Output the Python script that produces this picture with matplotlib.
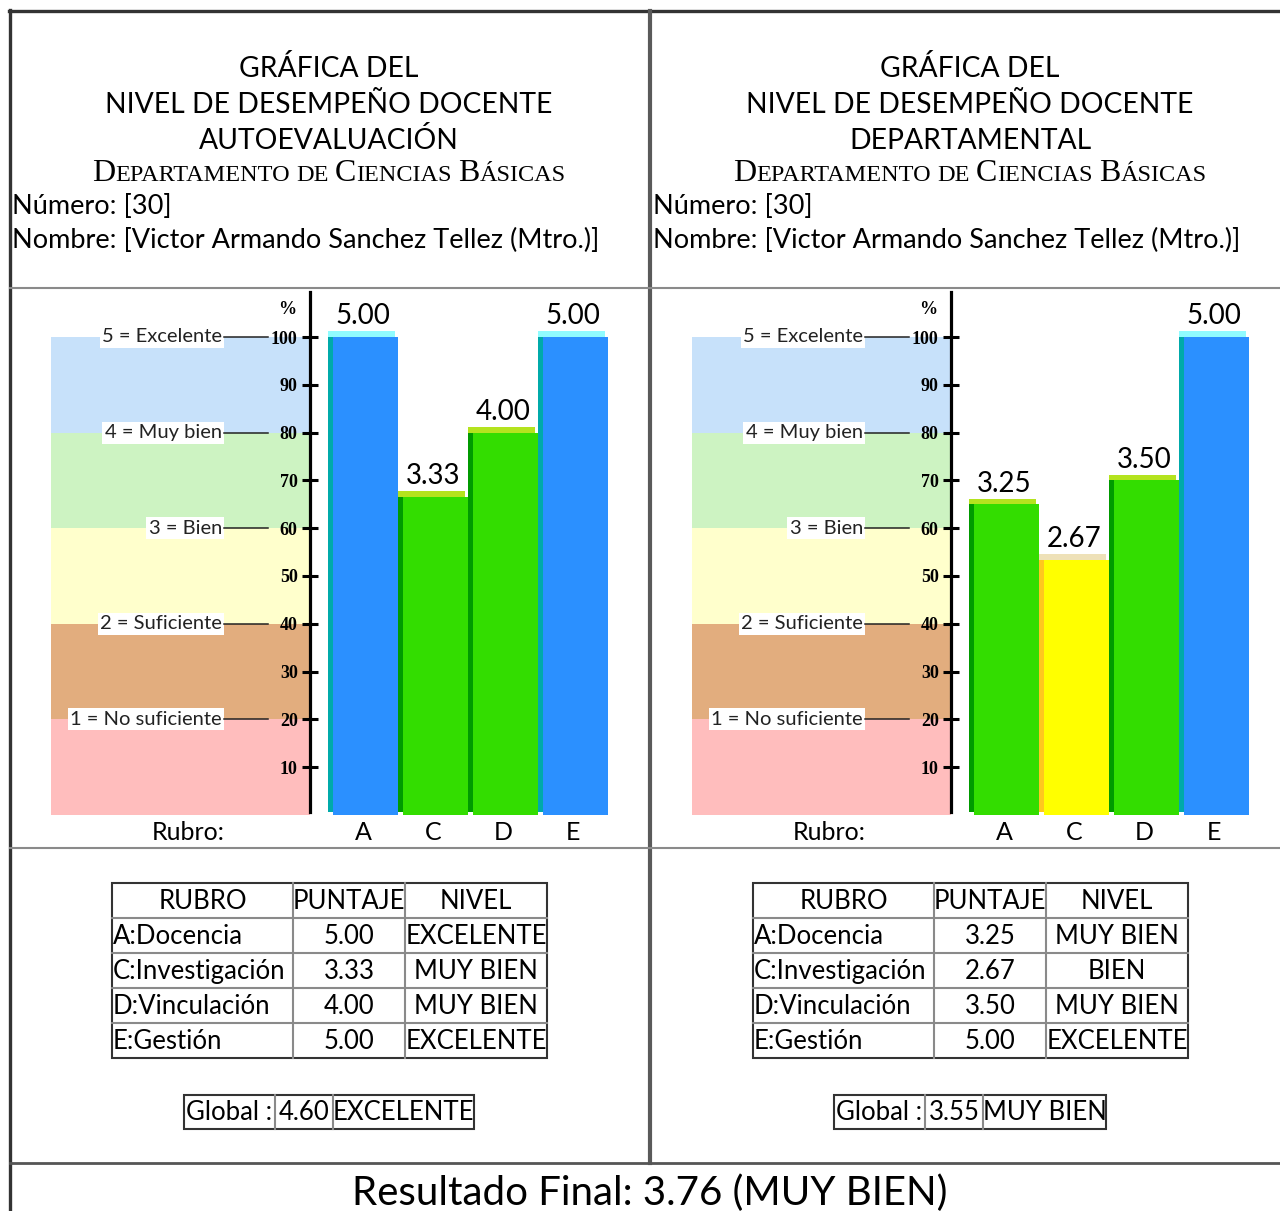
import matplotlib
matplotlib.use("Agg")
import matplotlib.pyplot as plt

# -------------------------
# Data
# -------------------------
rubros = ["A", "C", "D", "E"]
rubro_names = ["A:Docencia", "C:Investigación", "D:Vinculación", "E:Gestión"]

auto_scores = [5.00, 3.33, 4.00, 5.00]
auto_levels = ["EXCELENTE", "MUY BIEN", "MUY BIEN", "EXCELENTE"]
auto_global = 4.60
auto_global_level = "EXCELENTE"

dept_scores = [3.25, 2.67, 3.50, 5.00]
dept_levels = ["MUY BIEN", "BIEN", "MUY BIEN", "EXCELENTE"]
dept_global = 3.55
dept_global_level = "MUY BIEN"

final_score = 3.76
final_level = "MUY BIEN"

numero = 30
nombre = "Victor Armando Sanchez Tellez (Mtro.)"
subtitles = ["AUTOEVALUACIÓN", "DEPARTAMENTAL"]

band_bottoms = [0, 20, 40, 60, 80]
band_colors = ["#FFBDBD", "#E2AD7E", "#FFFFCC", "#CDF3C2", "#C7E1FA"]
band_tops = [20, 40, 60, 80, 100]
band_labels = ["1 = No suficiente", "2 = Suficiente", "3 = Bien", "4 = Muy bien", "5 = Excelente"]
y_ticks = [10, 20, 30, 40, 50, 60, 70, 80, 90, 100]

# bar colours by level: (main, left strip, top cap)
level_colors = {
    "EXCELENTE": ("#2B90FF", "#00AAAA", "#90FCFF"),
    "MUY BIEN": ("#33DD00", "#009A00", "#B4E31E"),
    "BIEN": ("#FFFF00", "#FFC81E", "#EEE1B8"),
}

SANS = ["Lato", "DejaVu Sans"]
SERIF = ["Liberation Serif", "DejaVu Serif"]

W, H = 1280, 1211
fig = plt.figure(figsize=(W / 100, H / 100), dpi=100)

# pixel-space overlay for the report frame, titles and tables
bg = fig.add_axes([0, 0, 1, 1])
bg.set_xlim(0, W)
bg.set_ylim(H, 0)
bg.axis("off")

DARK = "#333333"
GRAY = "#8A8A8A"
bg.plot([9, W], [11, 11], color=DARK, lw=2.4)
bg.plot([10, 10], [10, H], color=DARK, lw=2.4)
bg.plot([650, 650], [11, 1163], color="#5A5A5A", lw=3.0)
bg.plot([10, W], [288, 288], color=GRAY, lw=1.5)
bg.plot([10, W], [848, 848], color=GRAY, lw=1.5)
bg.plot([10, W], [1163, 1163], color="#555555", lw=2.0)

fig.canvas.draw()
renderer = fig.canvas.get_renderer()


def small_caps(ax, cx, y, text, big=23, small=17.5):
    # draw text in small caps, centred on cx
    pieces = []
    for word_i, word in enumerate(text.split(" ")):
        if word_i:
            pieces.append((" ", small))
        if word[0].isupper():
            pieces.append((word[0], big))
            if len(word) > 1:
                pieces.append((word[1:].upper(), small))
        else:
            pieces.append((word.upper(), small))
    arts = []
    total = 0
    for s, fs in pieces:
        t = ax.text(0, y, s, fontsize=fs, family=SERIF, va="baseline", ha="left")
        w = t.get_window_extent(renderer).width
        arts.append((t, w))
        total += w
    x = cx - total / 2
    for t, w in arts:
        t.set_x(x)
        x += w


def header(ox, sub):
    cx = 329 + ox
    for line, yb in zip(["GRÁFICA DEL", "NIVEL DE DESEMPEÑO DOCENTE", sub], [77, 113, 149]):
        bg.text(cx, yb, line, fontsize=20.3, family=SANS, ha="center", va="baseline")
    small_caps(bg, cx, 181, "Departamento de Ciencias Básicas")
    bg.text(12 + ox, 214, f"Número: [{numero}]", fontsize=19.5, family=SANS, va="baseline")
    bg.text(12 + ox, 248, f"Nombre: [{nombre}]", fontsize=19.5, family=SANS, va="baseline")


def table(ox, scores, levels, glob, glob_level, last_w):
    x0, y0, rh = 112 + ox, 883, 35
    cols = [x0, x0 + 181, x0 + 293, x0 + 435]
    nrows = len(scores) + 1
    for k in range(1, nrows):
        bg.plot([cols[0], cols[-1]], [y0 + k * rh] * 2, color=GRAY, lw=1.5)
    for c in cols[1:-1]:
        bg.plot([c, c], [y0, y0 + nrows * rh], color=GRAY, lw=1.5)
    bg.add_patch(plt.Rectangle((cols[0], y0), cols[-1] - cols[0], nrows * rh,
                               fill=False, ec=DARK, lw=1.5))
    fs = 18.5
    hdr = ["RUBRO", "PUNTAJE", "NIVEL"]
    for j, h in enumerate(hdr):
        bg.text((cols[j] + cols[j + 1]) / 2, y0 + rh / 2 + 1, h, fontsize=fs,
                family=SANS, ha="center", va="center")
    for i, (name, s, lv) in enumerate(zip(rubro_names, scores, levels)):
        yc = y0 + (i + 1.5) * rh + 1
        bg.text(cols[0] + 1, yc, name, fontsize=fs, family=SANS, ha="left", va="center")
        bg.text((cols[1] + cols[2]) / 2, yc, f"{s:.2f}", fontsize=fs, family=SANS,
                ha="center", va="center")
        bg.text((cols[2] + cols[3]) / 2, yc, lv, fontsize=fs, family=SANS,
                ha="center", va="center")
    # global box
    widths = [91, 58, last_w]
    gx = 329 + ox - sum(widths) / 2
    gy, gh = 1095, 34
    edges = [gx, gx + widths[0], gx + widths[0] + widths[1], gx + sum(widths)]
    for c in edges[1:-1]:
        bg.plot([c, c], [gy, gy + gh], color=GRAY, lw=1.5)
    bg.add_patch(plt.Rectangle((gx, gy), sum(widths), gh, fill=False, ec=DARK, lw=1.5))
    for j, s in enumerate(["Global :", f"{glob:.2f}", glob_level]):
        bg.text((edges[j] + edges[j + 1]) / 2, gy + gh / 2 + 1, s, fontsize=fs,
                family=SANS, ha="center", va="center")


# chart geometry (pixels): bar i centred at 363 + 70 * i, 0..100 % -> 815..337
PX_X0, PX_X1, PX_YTOP, PX_YBOT = 51, 620, 289, 815
X_LEFT = (PX_X0 - 363) / 70
X_RIGHT = (PX_X1 - 363) / 70
AXIS_X = (309.5 - 363) / 70


def chart(ox, scores, levels):
    ax = fig.add_axes([(PX_X0 + ox) / W, (H - PX_YBOT) / H,
                       (PX_X1 - PX_X0) / W, (PX_YBOT - PX_YTOP) / H])
    ax.set_xlim(X_LEFT, X_RIGHT)
    ax.set_ylim(0, (PX_YBOT - PX_YTOP) / 4.78)
    ax.patch.set_alpha(0)

    ax.barh(band_bottoms, AXIS_X - X_LEFT, left=X_LEFT, height=20, align="edge",
            color=band_colors, lw=0, zorder=0)
    for lvl, lab in zip(band_tops, band_labels):
        ax.text((222 - 363) / 70, lvl, lab, fontsize=14.5, family=SANS, ha="right",
                va="center", color="#222222", zorder=3,
                bbox=dict(boxstyle="square,pad=0.12", fc="white", ec="none"))
        ax.plot([(224 - 363) / 70, (268 - 363) / 70], [lvl, lvl], color="#222222",
                lw=1.1, zorder=3)

    for i, (s, lv) in enumerate(zip(scores, levels)):
        main, strip, cap = level_colors[lv]
        h = s * 20
        ax.bar(i - 0.5, h - 0.6, bottom=0.6, width=0.08, align="edge", color=strip,
               lw=0, zorder=2)
        ax.bar(i - 0.43, h, width=0.93, align="edge", color=main, lw=0, zorder=2)
        ax.bar(i - 0.5, 1.2, bottom=h, width=0.96, align="edge", color=cap, lw=0, zorder=2)
        ax.text(i, h + 1.6, f"{s:.2f}", fontsize=20, family=SANS, ha="center",
                va="bottom", zorder=4)

    for side in ["top", "right", "bottom"]:
        ax.spines[side].set_visible(False)
    ax.spines["left"].set_position(("data", AXIS_X))
    ax.spines["left"].set_linewidth(2.3)
    ax.spines["left"].set_bounds(0.6, 109.5)
    ax.spines["left"].set_zorder(5)
    ax.set_yticks(y_ticks)
    ax.set_yticklabels([str(t) for t in y_ticks], family=SERIF, fontweight="bold",
                       fontsize=13)
    ax.tick_params(axis="y", direction="inout", length=11, width=2.2, pad=3)
    ax.text((287 - 363) / 70, (PX_YBOT - 310) / 4.78, "%", family=SERIF,
            fontweight="bold", fontsize=13, ha="center", va="center")

    ax.set_xticks([(188 - 363) / 70] + list(range(len(rubros))))
    ax.set_xticklabels(["Rubro:"] + rubros, family=SANS, fontsize=18)
    ax.tick_params(axis="x", length=0, pad=4)
    return ax


panels = [
    (0, auto_scores, auto_levels, auto_global, auto_global_level, 141, subtitles[0]),
    (641, dept_scores, dept_levels, dept_global, dept_global_level, 123, subtitles[1]),
]
for ox, sc, lv, g, gl, lw_, sub in panels:
    header(ox, sub)
    table(ox, sc, lv, g, gl, lw_)
    chart(ox, sc, lv)

bg.text(650, 1205, f"Resultado Final: {final_score:.2f} ({final_level})", fontsize=29,
        family=SANS, ha="center", va="baseline")

fig.savefig("out.png", dpi=100)
